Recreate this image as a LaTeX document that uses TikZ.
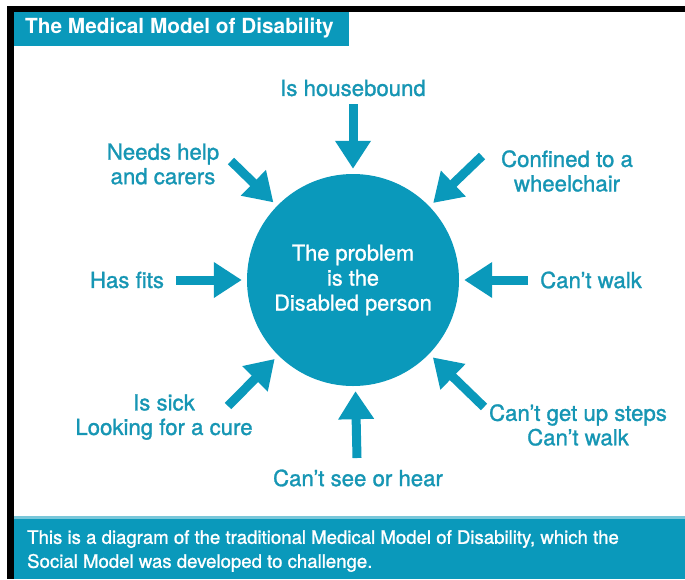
\documentclass[tikz,border=0pt]{standalone}
\usepackage{fontspec}
\setmainfont{TeX Gyre Heros}
\newfontfamily\medfont[FakeBold=1.2]{TeX Gyre Heros}
\usetikzlibrary{arrows.meta}
\definecolor{teal1}{RGB}{10,153,187}
\definecolor{tealtext}{RGB}{22,150,180}
\tikzset{
  lbl/.style={text=tealtext, font=\medfont\fontsize{22.2}{24.5}\selectfont, align=center, inner sep=0pt},
  arr/.style={draw=teal1, line width=9pt, shorten >=5pt,
    -{Triangle[length=28pt, width=34pt]}},
}
\begin{document}
\begin{tikzpicture}[x=1pt,y=-1pt]
\useasboundingbox (0,0) rectangle (685,579);
\fill[white] (0,0) rectangle (685,579);
% frame
\fill[black] (8,6) rectangle (685,12);
\fill[black] (7,6) rectangle (14,579);
% title
\fill[teal1] (14,12) rectangle (349,46);
\node[anchor=west, text=white, inner sep=0pt, font=\fontsize{20.8}{22}\selectfont\bfseries] (title) at (25,28.5) {The Medical Model of Disability};
% bottom band
\fill[teal1!55] (14,516) rectangle (685,519);
\fill[teal1] (14,519) rectangle (685,579);
\node[anchor=north west, text=white, inner sep=0pt, align=left, font=\medfont\fontsize{18.6}{24}\selectfont] (foot) at (27,530) {This is a diagram of the traditional Medical Model of Disability, which the\\Social Model was developed to challenge.};
% circle
\node[circle, fill=teal1, minimum size=212pt, inner sep=0pt, text=white, align=center, font=\medfont\fontsize{21.8}{25}\selectfont] (c) at (353,280) {The problem\\is the\\Disabled person};
% arrow tails
\coordinate (tN) at (353,104);
\coordinate (tNE) at (482,156);
\coordinate (tE) at (528,280);
\coordinate (tSE) at (484,407);
\coordinate (tS) at (357,458);
\coordinate (tSW) at (228,406);
\coordinate (tW) at (176,280);
\coordinate (tNW) at (231,161);
\foreach \t in {tN,tNE,tE,tSE,tS,tSW,tW,tNW} \draw[arr] (\t) -- (c);
% labels
\node[lbl] (lN) at (353,88) {Is housebound};
\node[lbl] (lNE) at (567,171) {Confined to a\\wheelchair};
\node[lbl] (lE) at (591,280) {Can’t walk};
\node[lbl] (lSE) at (578,425) {Can’t get up steps\\Can’t walk};
\node[lbl] (lS) at (358,478) {Can’t see or hear};
\node[lbl] (lSW) at (164,417) {Is sick\\Looking for a cure};
\node[lbl] (lW) at (127,280) {Has fits};
\node[lbl] (lNW) at (163,164) {Needs help\\and carers};
\end{tikzpicture}
\end{document}
